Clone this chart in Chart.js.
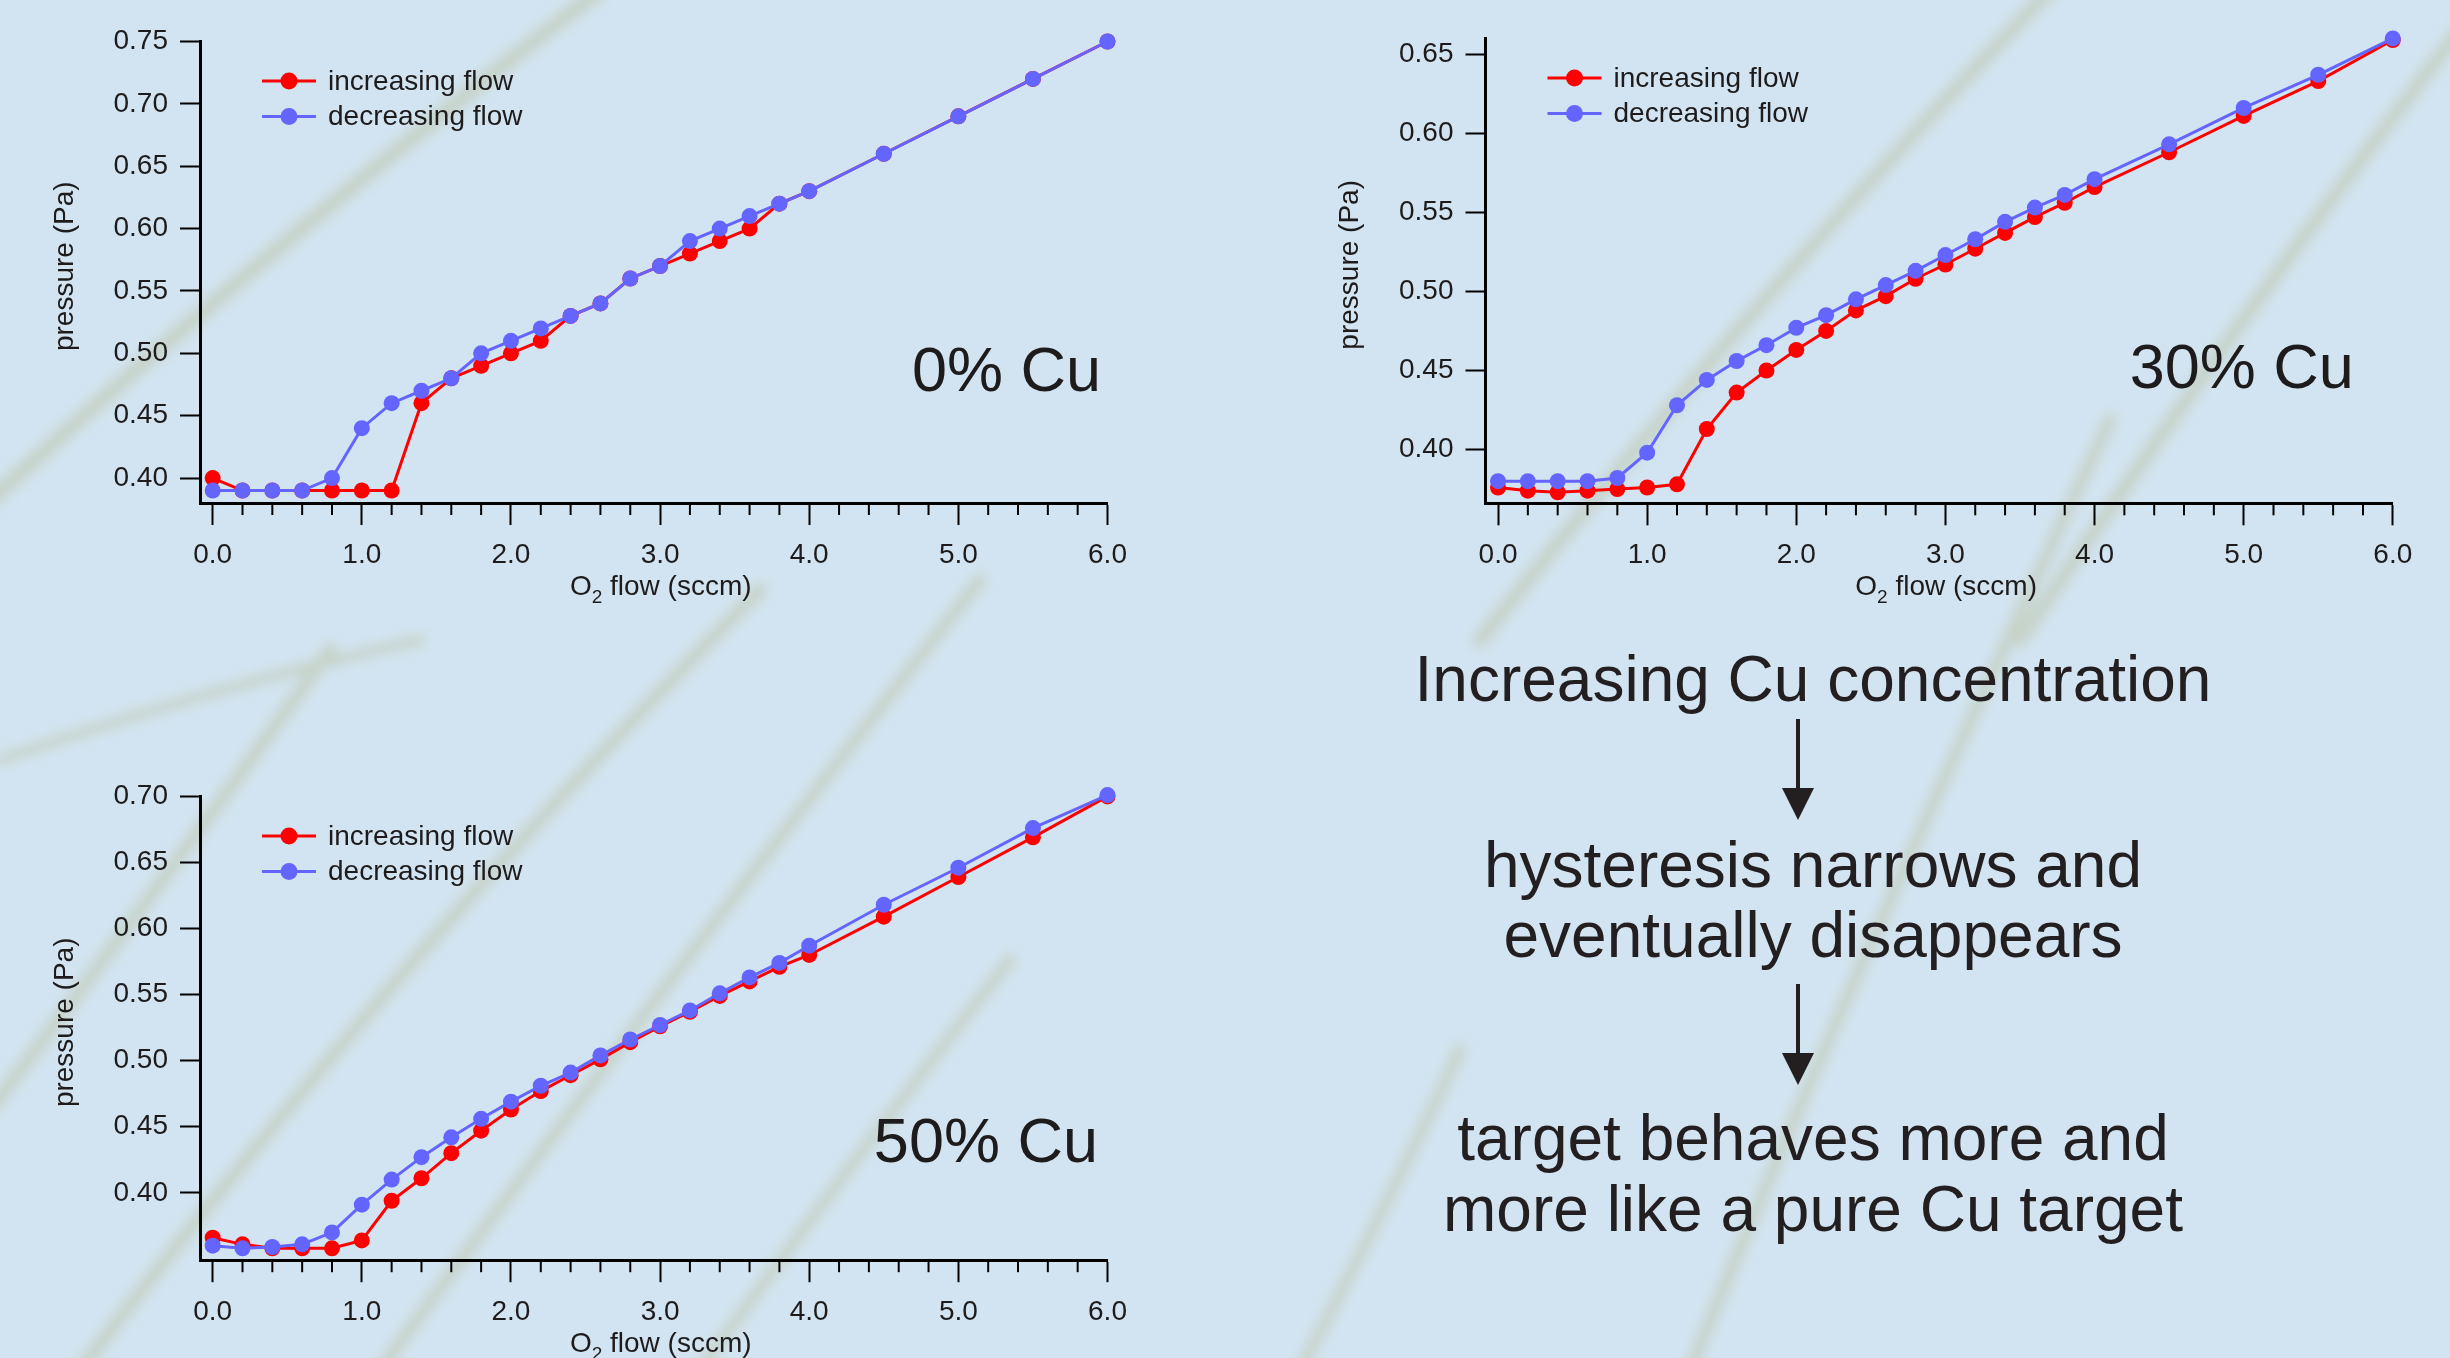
<!DOCTYPE html>
<html>
<head>
<meta charset="utf-8">
<script src="https://cdn.jsdelivr.net/npm/chart.js@4.4.0/dist/chart.umd.min.js"></script>
<style>
  html, body { margin: 0; padding: 0; }
  body {
    width: 2450px; height: 1358px; position: relative; overflow: hidden;
    background: #d2e4f1;
    font-family: "Liberation Sans", Arial, sans-serif;
  }
  canvas { position: absolute; }
  svg { position: absolute; left: 0; top: 0; }
</style>
</head>
<body>
<!-- blurred grass stems of the backdrop photo -->
<svg width="2450" height="1358">
  <defs><filter id="soft" x="-20%" y="-20%" width="140%" height="140%"><feGaussianBlur stdDeviation="6"/></filter></defs>
  <g filter="url(#soft)" stroke="#b9bf9a" stroke-linecap="round" fill="none" opacity="0.45">
    <path d="M -20 510 Q 250 260 600 -10" stroke-width="16"/>
    <path d="M 1480 640 Q 1750 300 2050 -10" stroke-width="15"/>
    <path d="M 2020 640 Q 2250 300 2460 30" stroke-width="15"/>
    <path d="M 1690 1370 Q 1860 950 2110 420" stroke-width="13"/>
    <path d="M -10 1110 Q 150 900 330 650" stroke-width="14"/>
    <path d="M 80 1370 Q 400 950 760 590" stroke-width="14"/>
    <path d="M 380 1370 Q 650 1000 980 580" stroke-width="13"/>
    <path d="M 700 1370 Q 860 1150 1010 960" stroke-width="12"/>
    <path d="M 1300 1370 Q 1390 1200 1460 1050" stroke-width="12"/>
    <path d="M 0 760 Q 200 690 420 640" stroke-width="10"/>
  </g>
</svg>

<canvas id="cu0" width="1150" height="620" style="left:0px;top:0px"></canvas>
<canvas id="cu30" width="1150" height="620" style="left:1300px;top:0px"></canvas>
<canvas id="cu50" width="1150" height="618" style="left:0px;top:740px"></canvas>

<svg width="2450" height="1358" font-family="Liberation Sans, Arial, sans-serif" font-size="64" fill="#231f20">
  <text x="1813" y="701" text-anchor="middle">Increasing Cu concentration</text>
  <line x1="1798" y1="719" x2="1798" y2="792" stroke="#231f20" stroke-width="4"/>
  <polygon points="1782,788 1814,788 1798,820" fill="#231f20"/>
  <text x="1813" y="887" text-anchor="middle">hysteresis narrows and</text>
  <text x="1813" y="957" text-anchor="middle">eventually disappears</text>
  <line x1="1798" y1="984" x2="1798" y2="1057" stroke="#231f20" stroke-width="4"/>
  <polygon points="1782,1053 1814,1053 1798,1085" fill="#231f20"/>
  <text x="1813" y="1160" text-anchor="middle">target behaves more and</text>
  <text x="1813" y="1231" text-anchor="middle">more like a pure Cu target</text>
</svg>

<script>
// O2 flow set points (sccm), shared by all runs
const xFlow = [0, 0.2, 0.4, 0.6, 0.8, 1.0, 1.2, 1.4, 1.6, 1.8, 2.0, 2.2, 2.4, 2.6, 2.8, 3.0,
               3.2, 3.4, 3.6, 3.8, 4.0, 4.5, 5.0, 5.5, 6.0];
const xTicks = [0, 1, 2, 3, 4, 5, 6];

// pressure (Pa)
const inc0 = [0.40, 0.39, 0.39, 0.39, 0.39, 0.39, 0.39, 0.46, 0.48, 0.49, 0.50, 0.51, 0.53, 0.54, 0.56, 0.57,
              0.58, 0.59, 0.60, 0.62, 0.63, 0.66, 0.69, 0.72, 0.75];
const dec0 = [0.39, 0.39, 0.39, 0.39, 0.40, 0.44, 0.46, 0.47, 0.48, 0.50, 0.51, 0.52, 0.53, 0.54, 0.56, 0.57,
              0.59, 0.60, 0.61, 0.62, 0.63, 0.66, 0.69, 0.72, 0.75];

const inc30 = [0.376, 0.374, 0.373, 0.374, 0.375, 0.376, 0.378, 0.413, 0.436, 0.450, 0.463, 0.475, 0.488, 0.497,
               0.508, 0.517, 0.527, 0.537, 0.547, 0.556, 0.566, 0.588, 0.611, 0.633, 0.659];
const dec30 = [0.380, 0.380, 0.380, 0.380, 0.382, 0.398, 0.428, 0.444, 0.456, 0.466, 0.477, 0.485, 0.495, 0.504,
               0.513, 0.523, 0.533, 0.544, 0.553, 0.561, 0.571, 0.593, 0.616, 0.637, 0.660];

const inc50 = [0.366, 0.361, 0.358, 0.358, 0.358, 0.364, 0.394, 0.411, 0.430, 0.447, 0.463, 0.477, 0.489, 0.501,
               0.514, 0.526, 0.537, 0.549, 0.560, 0.571, 0.580, 0.609, 0.639, 0.669, 0.700];
const dec50 = [0.360, 0.358, 0.359, 0.361, 0.370, 0.391, 0.410, 0.427, 0.442, 0.456, 0.469, 0.481, 0.491, 0.504,
               0.516, 0.527, 0.538, 0.551, 0.563, 0.574, 0.587, 0.618, 0.646, 0.676, 0.701];

const yTicks0 = [0.40, 0.45, 0.50, 0.55, 0.60, 0.65, 0.70, 0.75];
const yTicks30 = [0.40, 0.45, 0.50, 0.55, 0.60, 0.65];
const yTicks50 = [0.40, 0.45, 0.50, 0.55, 0.60, 0.65, 0.70];

const FONT = '"Liberation Sans", Arial, sans-serif';
const INK = '#1d1b1c';
const RED = '#ff0000';
const BLUE = '#6464ff';

// minor ticks, titles, legend and the "xx% Cu" tag
const decor = {
    id: 'decor',
    afterDraw(chart, args, opts) {
        const {ctx, chartArea: a, scales: {x}} = chart;
        ctx.save();
        ctx.strokeStyle = '#000';
        ctx.lineWidth = 2;
        for (let v = 0.2; v < 6; v += 0.2) {
            if (Math.abs(v - Math.round(v)) < 1e-6) continue;
            const px = x.getPixelForValue(v);
            ctx.beginPath();
            ctx.moveTo(px, a.bottom);
            ctx.lineTo(px, a.bottom + 12);
            ctx.stroke();
        }

        ctx.fillStyle = INK;
        ctx.textBaseline = 'alphabetic';
        // x title with subscript
        const big = '28px ' + FONT, sub = '19px ' + FONT;
        ctx.font = big;
        const wO = ctx.measureText('O').width;
        const wRest = ctx.measureText(' flow (sccm)').width;
        ctx.font = sub;
        const w2 = ctx.measureText('2').width;
        let tx = (a.left + a.right) / 2 + 7 - (wO + w2 + wRest) / 2;
        const ty = a.bottom + 92;
        ctx.textAlign = 'left';
        ctx.font = big;
        ctx.fillText('O', tx, ty);
        ctx.font = sub;
        ctx.fillText('2', tx + wO, ty + 8);
        ctx.font = big;
        ctx.fillText(' flow (sccm)', tx + wO + w2, ty);

        // y title
        ctx.save();
        ctx.translate(a.left - 135, (a.top + a.bottom) / 2 - 6);
        ctx.rotate(-Math.PI / 2);
        ctx.textAlign = 'center';
        ctx.textBaseline = 'middle';
        ctx.fillText('pressure (Pa)', 0, 0);
        ctx.restore();

        // legend
        chart.data.datasets.forEach((ds, i) => {
            const ly = a.top + 39.5 + i * 35.5;
            ctx.strokeStyle = ds.borderColor;
            ctx.lineWidth = 3;
            ctx.beginPath();
            ctx.moveTo(a.left + 62, ly);
            ctx.lineTo(a.left + 116, ly);
            ctx.stroke();
            ctx.fillStyle = ds.backgroundColor;
            ctx.beginPath();
            ctx.arc(a.left + 89, ly, 8.5, 0, Math.PI * 2);
            ctx.fill();
            ctx.fillStyle = INK;
            ctx.font = big;
            ctx.textAlign = 'left';
            ctx.textBaseline = 'middle';
            ctx.fillText(ds.label, a.left + 128, ly + 1);
        });

        // composition tag
        ctx.font = '63px ' + FONT;
        ctx.textAlign = 'right';
        ctx.textBaseline = 'alphabetic';
        ctx.fillStyle = INK;
        ctx.fillText(opts.tag, a.right + opts.tagDx, opts.tagY);
        ctx.restore();
    }
};

function series(label, ys, color, order) {
    return {
        label: label,
        data: xFlow.map((x, i) => ({x: x, y: ys[i]})),
        borderColor: color,
        backgroundColor: color,
        borderWidth: 3,
        pointRadius: 8,
        pointHoverRadius: 8,
        pointBorderWidth: 0,
        clip: false,
        order: order
    };
}

function buildChart(id, inc, dec, yMin, yMax, yTicks, xMin, pad, axisW, axisH, tag, tagDx, tagY) {
    const ctx = document.getElementById(id).getContext('2d');
    return new Chart(ctx, {
        type: 'line',
        data: {
            datasets: [
                series('increasing flow', inc, RED, 2),
                series('decreasing flow', dec, BLUE, 1)
            ]
        },
        options: {
            responsive: false,
            animation: false,
            events: [],
            layout: {padding: pad},
            scales: {
                x: {
                    type: 'linear',
                    min: xMin,
                    max: 6,
                    afterBuildTicks: s => { s.ticks = xTicks.map(v => ({value: v})); },
                    afterFit: s => { s.height = axisH; },
                    grid: {drawOnChartArea: false, drawTicks: true, tickLength: 22, tickColor: '#000', tickWidth: 2},
                    border: {display: true, color: '#000', width: 3},
                    ticks: {
                        color: INK, padding: 16, maxRotation: 0, autoSkip: false,
                        font: {family: FONT, size: 28, lineHeight: 1},
                        callback: v => v.toFixed(1)
                    }
                },
                y: {
                    type: 'linear',
                    min: yMin,
                    max: yMax,
                    afterBuildTicks: s => { s.ticks = yTicks.map(v => ({value: v})); },
                    afterFit: s => { s.width = axisW; },
                    grid: {drawOnChartArea: false, drawTicks: true, tickLength: 20, tickColor: '#000', tickWidth: 2},
                    border: {display: true, color: '#000', width: 3},
                    ticks: {
                        color: INK, padding: 12, autoSkip: false,
                        font: {family: FONT, size: 28, lineHeight: 1},
                        callback: v => v.toFixed(2)
                    }
                }
            },
            plugins: {
                legend: {display: false},
                tooltip: {enabled: false},
                decor: {tag: tag, tagDx: tagDx, tagY: tagY}
            }
        },
        plugins: [decor]
    });
}

buildChart('cu0', inc0, dec0, 0.38, 0.75, yTicks0, -0.085,
    {left: 0, top: 41.5, right: 42.5, bottom: 0}, 200, 117, '0% Cu', -6.5, 391);
buildChart('cu30', inc30, dec30, 0.366, 0.66, yTicks30, -0.084,
    {left: 0, top: 38.4, right: 57.2, bottom: 0}, 185.5, 116.7, '30% Cu', -39, 388);
buildChart('cu50', inc50, dec50, 0.349, 0.70, yTicks50, -0.085,
    {left: 0, top: 56.4, right: 42.5, bottom: 0}, 200, 97.8, '50% Cu', -9.5, 422);
</script>
</body>
</html>
